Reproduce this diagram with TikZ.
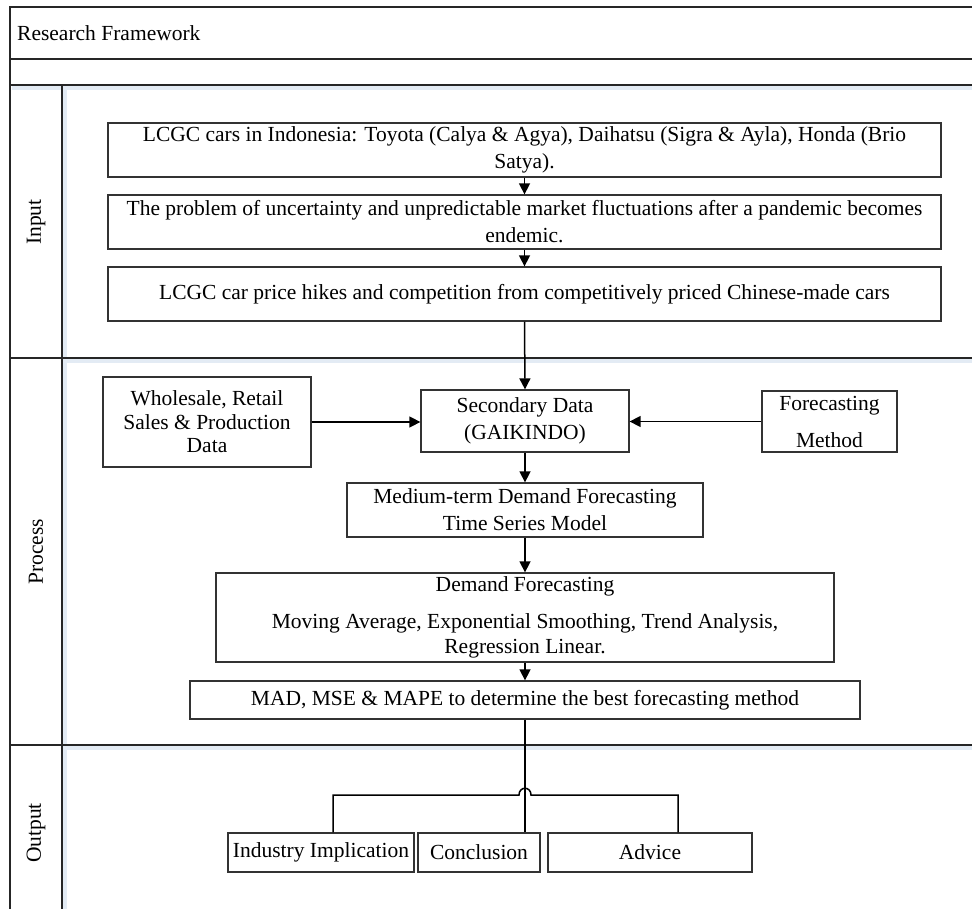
\documentclass[tikz,border=0pt]{standalone}
\usepackage{fontspec}
\setmainfont{Liberation Serif}
\usetikzlibrary{arrows.meta}
\definecolor{boxline}{HTML}{333333}
\definecolor{glow}{HTML}{E3EBF4}
\tikzset{
  box/.style={draw=boxline, line width=1.3pt, inner sep=0pt, align=center, anchor=center,
              font=\fontsize{21.5}{27}\selectfont},
  lane/.style={font=\fontsize{21.5}{26}\selectfont, rotate=90, anchor=center},
  frame/.style={draw=black!85, line width=1.7pt},
  shade/.style={draw=glow, line width=4pt},
  conn/.style={draw=black, line width=1.5pt},
  arr/.style={conn, -{Triangle[length=11pt,width=11pt]}}
}
\begin{document}
\begin{tikzpicture}[x=1pt,y=-1pt]
\useasboundingbox (0,0) rectangle (972,909);
% soft shadows of the frame lines
\draw[shade] (12,88) -- (972,88);
\draw[shade] (64,361) -- (972,361);
\draw[shade] (64,748) -- (972,748);
\draw[shade] (65,88) -- (65,909);
% frame
\draw[frame] (972,7) -- (10,7) -- (10,909);
\draw[frame] (10,59) -- (972,59);
\draw[frame] (10,85) -- (972,85);
\draw[frame] (10,358) -- (972,358);
\draw[frame] (10,745) -- (972,745);
\draw[frame] (62,85) -- (62,909);
\node[font=\fontsize{21.5}{26}\selectfont, anchor=west, inner sep=0pt] (title) at (17,33) {Research Framework};
\node[lane] (linput) at (36,222) {Input};
\node[lane] (lprocess) at (36,552) {Process};
\node[lane] (loutput) at (36,833) {Output};
% input boxes
\node[box, minimum width=833, minimum height=54] (in1) at (524.5,150)
  {LCGC cars in Indonesia: Toyota (Calya \& Agya), Daihatsu (Sigra \& Ayla), Honda (Brio\\Satya).};
\node[box, minimum width=833, minimum height=54] (in2) at (524.5,222)
  {The problem of uncertainty and unpredictable market fluctuations after a pandemic becomes\\endemic.};
\node[box, minimum width=833, minimum height=54] (in3) at (524.5,294)
  {LCGC car price hikes and competition from competitively priced Chinese-made cars};
% process boxes
\node[box, minimum width=208, minimum height=90] (whole) at (207,422)
  {Wholesale, Retail\\[-3.5pt]Sales \& Production\\[-3.5pt]Data};
\node[box, minimum width=208, minimum height=62] (sec) at (525,421)
  {Secondary Data\\(GAIKINDO)};
\node[box, minimum width=135, minimum height=61] (fm) at (829.5,421.5)
  {Forecasting\\[10pt]Method};
\node[box, minimum width=356, minimum height=54] (med) at (525,510)
  {Medium-term Demand Forecasting\\Time Series Model};
\node[box, minimum width=618, minimum height=89] (dem) at (525,617.5)
  {Demand Forecasting\\[10pt]Moving Average, Exponential Smoothing, Trend Analysis,\\[-2pt]Regression Linear.};
\node[box, minimum width=670, minimum height=38] (mad) at (525,700)
  {MAD, MSE \& MAPE to determine the best forecasting method};
% output boxes
\node[box, minimum width=186, minimum height=39] (ind) at (321,852.5) {Industry Implication};
\node[box, minimum width=122, minimum height=39] (con) at (479,852.5) {Conclusion};
\node[box, minimum width=204, minimum height=39] (adv) at (650,852.5) {Advice};
% connectors
\draw[arr] (in1.south) -- (in2.north);
\draw[arr] (in2.south) -- (in3.north);
\draw[arr] (in3.south) -- (sec.north);
\draw[arr] (whole.east) -- (whole.east -| sec.west);
\draw[arr] (fm.west) -- (fm.west -| sec.east);
\draw[arr] (sec.south) -- (med.north);
\draw[arr] (med.south) -- (dem.north);
\draw[arr] (dem.south) -- (mad.south |- mad.north);
\draw[conn] (mad.south) -- (mad.south |- con.north);
\coordinate (hl) at (333,795);
\coordinate (hr) at (678,795);
\coordinate (hopa) at (519,795);
\coordinate (hopb) at (531,795);
\draw[conn] (hl |- ind.north) -- (hl) -- (hopa) .. controls (519,786) and (531,786) .. (hopb) -- (hr) -- (hr |- adv.north);
\end{tikzpicture}
\end{document}
